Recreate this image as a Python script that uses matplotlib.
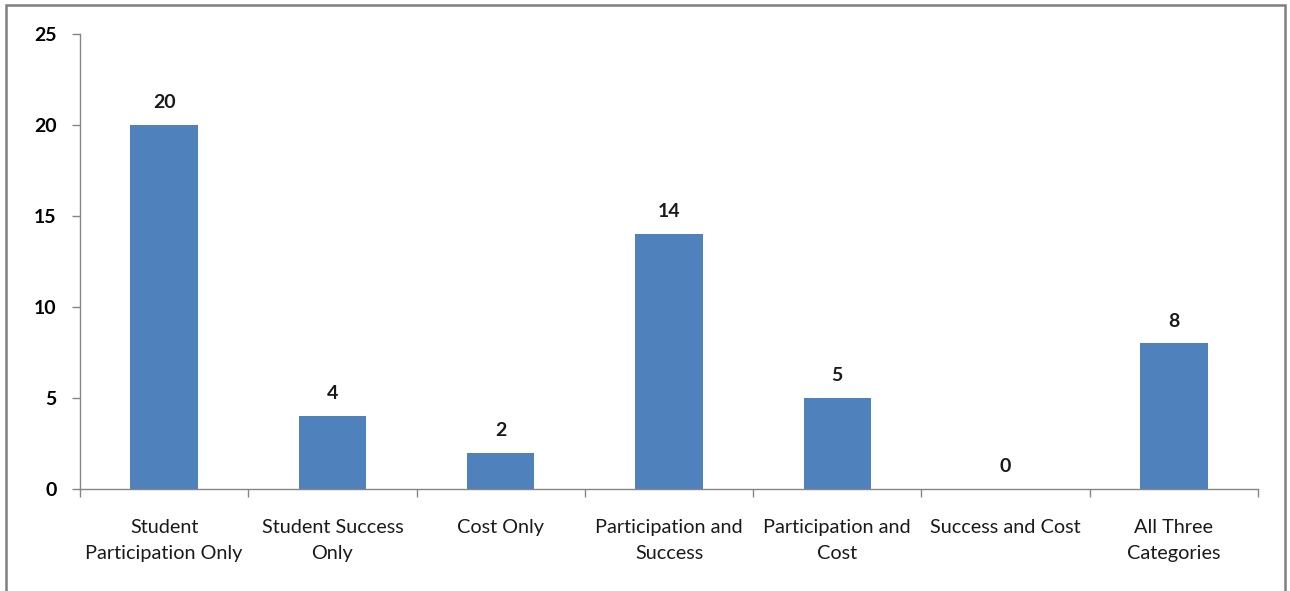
import matplotlib
matplotlib.use("Agg")
import matplotlib.pyplot as plt
from matplotlib.patches import Rectangle

categories = [
    "Student\nParticipation Only",
    "Student Success\nOnly",
    "Cost Only",
    "Participation and\nSuccess",
    "Participation and\nCost",
    "Success and Cost",
    "All Three\nCategories",
]
counts = [20, 4, 2, 14, 5, 0, 8]
y_ticks = [0, 5, 10, 15, 20, 25]

BAR = "#4F81BD"
AXIS = "#868686"
plt.rcParams["font.family"] = ["Lato", "DejaVu Sans"]

fig = plt.figure(figsize=(12.9, 5.91), dpi=100)
fig.patch.set_facecolor("white")
fig.patches.append(Rectangle((6 / 1290, -0.05), 1279 / 1290, 1 - 5 / 591 + 0.05,
                             transform=fig.transFigure, fill=False,
                             edgecolor="#7f7f7f", linewidth=1.8))

ax = fig.add_axes([80 / 1290, 1 - 489 / 591, 1178 / 1290, 455 / 591])
x = list(range(len(categories)))
ax.bar(x, counts, width=0.4, color=BAR, edgecolor="none", zorder=2)
for xi, v in zip(x, counts):
    ax.annotate(str(v), (xi, v), xytext=(0, 16), textcoords="offset points",
                ha="center", va="center", fontsize=14, fontweight="bold",
                color="#1a1a1a")

ax.set_xlim(-0.5, len(categories) - 0.5)
ax.set_ylim(0, 25)
ax.set_yticks(y_ticks)
ax.set_yticklabels([str(t) for t in y_ticks], fontsize=14, fontweight="bold")
ax.set_xticks([i - 0.5 for i in range(len(categories) + 1)])
ax.set_xticklabels([])
ax.set_xticks(x, minor=True)
ax.set_xticklabels(categories, minor=True, fontsize=14.3, linespacing=1.65,
                   color="#1a1a1a")
ax.tick_params(axis="x", which="minor", length=0, pad=21.5)
ax.tick_params(axis="x", which="major", length=6, width=1, color=AXIS, direction="out")
ax.tick_params(axis="y", length=6, width=1, color=AXIS, direction="out", pad=11)

for s in ["top", "right"]:
    ax.spines[s].set_visible(False)
for s in ["left", "bottom"]:
    ax.spines[s].set_color(AXIS)
    ax.spines[s].set_linewidth(1)

fig.savefig("out.png", dpi=100)
